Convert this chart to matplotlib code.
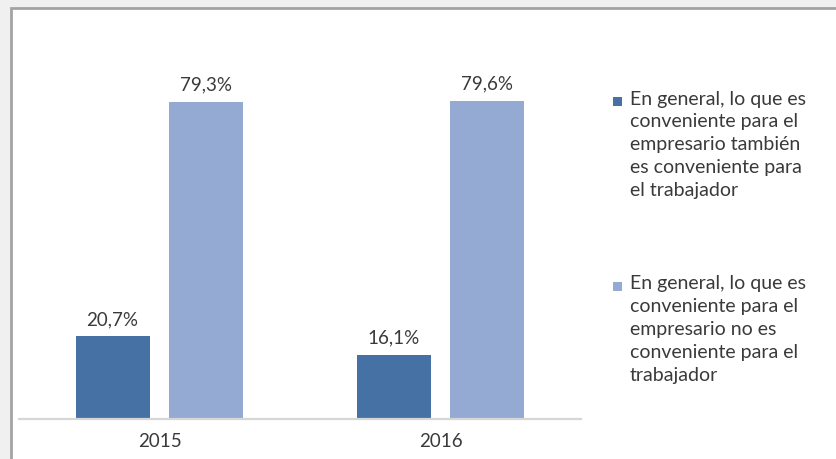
import matplotlib
matplotlib.use("Agg")
import matplotlib.pyplot as plt
from matplotlib.patches import Rectangle
import numpy as np

categories = ["2015", "2016"]
series_names = [
    "En general, lo que es\nconveniente para el\nempresario también\nes conveniente para\nel trabajador",
    "En general, lo que es\nconveniente para el\nempresario no es\nconveniente para el\ntrabajador",
]
values_a = [20.7, 16.1]
values_b = [79.3, 79.6]
labels_a = ["20,7%", "16,1%"]
labels_b = ["79,3%", "79,6%"]

W, H = 836, 459
fig = plt.figure(figsize=(W / 100, H / 100), dpi=100)
fig.patch.set_facecolor("#f0f0f0")

# background axes holding white chart frame with grey border
bg = fig.add_axes([0, 0, 1, 1], zorder=-5)
bg.set_xlim(0, W)
bg.set_ylim(H, 0)
bg.axis("off")
bg.add_patch(Rectangle((11, 8), W + 50, H + 50, facecolor="white",
                       edgecolor="#a3a3a3", linewidth=2))

fam = ["Lato", "DejaVu Sans"]
txtc = "#3a3a3a"
dark = "#4571A5"
light = "#94AAD2"
fs = 13.5

left, right, bottom = 19, 581, 419
ymax = 90
top = bottom - 4.0 * ymax
ax = fig.add_axes([left / W, 1 - bottom / H, (right - left) / W, (bottom - top) / H], zorder=2)
ax.set_facecolor("none")

x = np.arange(len(categories))
bw = 0.263
off = 0.167
ax.bar(x - off, values_a, bw, color=dark)
ax.bar(x + off, values_b, bw, color=light)

for xi, v, l in zip(x - off, values_a, labels_a):
    ax.text(xi, v + 2.0, l, ha="center", va="bottom", fontsize=fs, color=txtc, family=fam)
for xi, v, l in zip(x + off, values_b, labels_b):
    ax.text(xi, v + 2.0, l, ha="center", va="bottom", fontsize=fs, color=txtc, family=fam)

ax.set_xlim(-0.5, 1.5)
ax.set_ylim(0, ymax)
ax.set_xticks(x)
ax.set_xticklabels(categories, fontsize=fs, color=txtc, family=fam)
ax.tick_params(axis="x", length=0, pad=10)
ax.set_yticks([])
for s in ["top", "right", "left"]:
    ax.spines[s].set_visible(False)
ax.spines["bottom"].set_color("#d6d6d6")
ax.spines["bottom"].set_linewidth(1.6)

# manual legend (marker aligned with first line, as in the reference)
leg_colors = [dark, light]
leg_y = [101, 286]
for name, c, yc in zip(series_names, leg_colors, leg_y):
    bg.add_patch(Rectangle((613, yc - 4.5), 9, 9, facecolor=c, edgecolor="none", zorder=3))
    bg.text(630, yc - 10.5, name, ha="left", va="top", fontsize=14, color=txtc,
            family=fam, linespacing=1.42)

fig.savefig("out.png", dpi=100, facecolor=fig.get_facecolor())
